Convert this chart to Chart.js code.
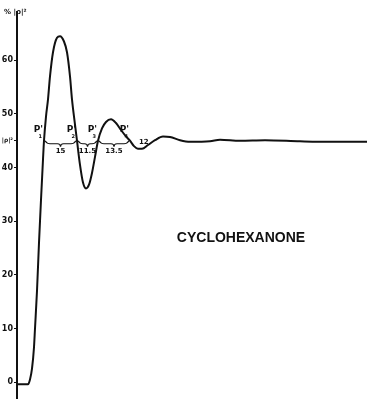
<!DOCTYPE html>
<html>
<head>
<meta charset="utf-8">
<script src="https://cdn.jsdelivr.net/npm/chart.js@4/dist/chart.umd.min.js"></script>
<style>
  html, body { margin: 0; padding: 0; background: #fff; }
  #wrap { width: 367px; height: 404px; }
</style>
</head>
<body>
<div id="wrap"><canvas id="response-chart"></canvas></div>
<script>
// response curve |rho|^2 (%) against time
const times = [0, 11, 13, 15, 17, 18, 20, 22, 24, 26, 27, 29, 31, 33, 36, 40, 43, 47, 50, 53, 55, 58, 60,
  63, 66, 69, 72, 75, 78, 81, 85, 89, 94, 99, 104, 109, 113, 117, 121, 125, 131, 138, 146, 153, 163,
  173, 193, 203, 223, 248, 283, 313, 350];
const rho2 = [-0.4, -0.4, 0.5, 2.5, 6.5, 10, 17, 26, 34, 41.5, 45, 49.5, 52.7, 57, 61.5, 64.2, 64.5, 63.5, 61.5, 57, 52.7, 48, 45,
  40.5, 37.2, 36.1, 36.8, 39, 42, 45, 47.3, 48.5, 49, 48.3, 47, 45.8, 45, 44, 43.5, 43.5, 44.2, 45.1, 45.8, 45.7, 45.1,
  44.8, 44.9, 45.2, 45.0, 45.1, 44.9, 44.8, 44.8];

// crossings of the final level and the half-period readings between them
const finalLevel = 45;
const crossings = [27, 60, 81, 113];
const intervals = ["15", "11.5", "13.5", "12"];
const yTicks = [0, 10, 20, 30, 40, 45, 50, 60];

const annotations = {
  id: 'annotations',
  afterDatasetsDraw(chart) {
    const { ctx, scales: { x, y } } = chart;
    const yl = y.getPixelForValue(finalLevel);
    ctx.save();
    ctx.strokeStyle = '#111';
    ctx.fillStyle = '#111';
    ctx.lineWidth = 1.2;

    // braces between successive crossings
    for (let i = 0; i < crossings.length - 1; i++) {
      const x1 = x.getPixelForValue(crossings[i]) + 1;
      const x2 = x.getPixelForValue(crossings[i + 1]) - 1;
      const m = (x1 + x2) / 2;
      const d = 3;
      ctx.beginPath();
      ctx.moveTo(x1, yl);
      ctx.quadraticCurveTo(x1 + 2, yl + d, x1 + 5, yl + d);
      ctx.lineTo(m - 3, yl + d);
      ctx.quadraticCurveTo(m, yl + d, m, yl + d + 3);
      ctx.quadraticCurveTo(m, yl + d, m + 3, yl + d);
      ctx.lineTo(x2 - 5, yl + d);
      ctx.quadraticCurveTo(x2 - 2, yl + d, x2, yl);
      ctx.stroke();
      ctx.font = 'bold 7px "DejaVu Sans"';
      ctx.textAlign = 'center';
      ctx.textBaseline = 'top';
      ctx.fillText(intervals[i], m, yl + d + 4);
    }
    ctx.font = 'bold 7px "DejaVu Sans"';
    ctx.textAlign = 'left';
    ctx.textBaseline = 'middle';
    ctx.fillText(intervals[3], x.getPixelForValue(crossings[3]) + 9, yl + 1);

    // P' labels at each crossing
    crossings.forEach((c, i) => {
      const px = x.getPixelForValue(c);
      ctx.font = 'bold 9px "DejaVu Sans"';
      ctx.textAlign = 'right';
      ctx.textBaseline = 'middle';
      ctx.fillText("P'", px - 1, yl - 11);
      ctx.font = 'bold 5px "DejaVu Sans"';
      ctx.fillText(String(i + 1), px - 2, yl - 4);
    });

    // axis title
    ctx.font = 'bold 7px "DejaVu Sans"';
    ctx.textAlign = 'left';
    ctx.textBaseline = 'middle';
    ctx.fillText('% |ρ|²', 4, 12);

    // substance name
    ctx.font = 'bold 14px "Liberation Sans"';
    ctx.textAlign = 'center';
    ctx.fillText('CYCLOHEXANONE', 241, 238);
    ctx.restore();
  }
};

new Chart(document.getElementById('response-chart'), {
  type: 'line',
  data: {
    datasets: [{
      data: times.map((t, i) => ({ x: t, y: rho2[i] })),
      borderColor: '#111',
      borderWidth: 2,
      pointRadius: 0,
      cubicInterpolationMode: 'monotone',
      fill: false
    }]
  },
  options: {
    responsive: true,
    maintainAspectRatio: false,
    animation: false,
    layout: { padding: { top: 12, bottom: 4, left: 0, right: 0 } },
    plugins: { legend: { display: false }, tooltip: { enabled: false } },
    scales: {
      x: { type: 'linear', min: 0, max: 350, display: false },
      y: {
        min: -3,
        max: 69,
        afterBuildTicks(scale) { scale.ticks = yTicks.map(v => ({ value: v })); },
        afterFit(scale) { scale.width = 17; },
        grid: { drawOnChartArea: false, drawTicks: true, tickLength: 3, color: '#111' },
        border: { display: true, color: '#111', width: 2 },
        ticks: {
          padding: 1,
          color: '#111',
          font: c => ({ family: 'DejaVu Sans', size: c.tick && c.tick.value === finalLevel ? 6 : 8, weight: 'bold' }),
          callback: v => v === finalLevel ? '|ρ|²' : String(v)
        }
      }
    }
  },
  plugins: [annotations]
});
</script>
</body>
</html>
